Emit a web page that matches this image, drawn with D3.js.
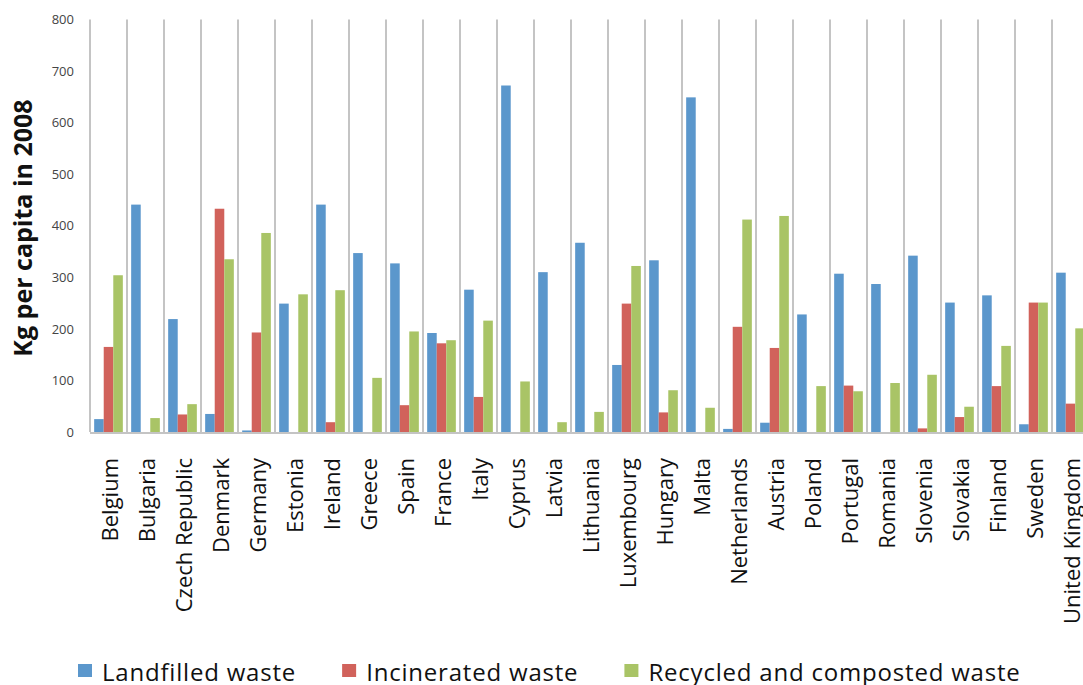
<!DOCTYPE html>
<html>
<head>
<meta charset="utf-8">
<script src="https://cdn.jsdelivr.net/npm/d3@7"></script>
<style>
  html, body { margin: 0; padding: 0; background: #fff; }
  svg { display: block; }
  text { font-family: "Open Sans", sans-serif; }
</style>
</head>
<body>
<svg id="chart" width="1083" height="685"></svg>
<script>
const countries = ["Belgium", "Bulgaria", "Czech Republic", "Denmark", "Germany", "Estonia", "Ireland", "Greece", "Spain", "France", "Italy", "Cyprus", "Latvia", "Lithuania", "Luxembourg", "Hungary", "Malta", "Netherlands", "Austria", "Poland", "Portugal", "Romania", "Slovenia", "Slovakia", "Finland", "Sweden", "United Kingdom"];
const seriesNames = ["Landfilled waste", "Incinerated waste", "Recycled and composted waste"];
const landfilled  = [25, 441, 219, 35, 3, 249, 441, 347, 327, 192, 276, 672, 310, 367, 130, 333, 649, 6, 18, 228, 307, 287, 342, 251, 265, 15, 309];
const incinerated = [165, 0, 34, 433, 193, 0, 19, 0, 52, 172, 68, 0, 0, 0, 249, 38, 0, 204, 163, 0, 90, 0, 7, 29, 89, 251, 55];
const recycled    = [304, 27, 54, 335, 386, 267, 275, 105, 195, 178, 216, 98, 19, 39, 322, 81, 47, 412, 419, 89, 79, 95, 111, 49, 167, 251, 201];
const yTicks = [0, 100, 200, 300, 400, 500, 600, 700, 800];
const colors = ["#5b97cc", "#d1625b", "#a9c466"];

const seriesValues = [landfilled, incinerated, recycled];
const svg = d3.select("#chart");

const plot = { left: 90, right: 1089, top: 19.5, bottom: 432 };

const x0 = d3.scaleBand().domain(countries).range([plot.left, plot.right])
  .paddingInner(0.225).paddingOuter(0.1125);
const x1 = d3.scaleBand().domain(seriesNames).range([0, x0.bandwidth()]);
const y = d3.scaleLinear().domain([0, 800]).range([plot.bottom, plot.top]);

// vertical gridlines at category boundaries
const boundaries = countries.map(c => x0(c) - x0.step() * x0.paddingInner() / 2);
boundaries.push(plot.left + x0.step() * countries.length);
svg.append("g").selectAll("line").data(boundaries).join("line")
  .attr("x1", d => d).attr("x2", d => d)
  .attr("y1", y(800)).attr("y2", y(0))
  .attr("stroke", "#c4c4c4").attr("stroke-width", 2);

// bars
const groups = svg.append("g").selectAll("g").data(countries).join("g")
  .attr("transform", d => `translate(${x0(d)},0)`);
groups.selectAll("rect")
  .data((c, i) => seriesNames.map((s, k) => ({ s, k, v: seriesValues[k][i] })))
  .join("rect")
  .attr("x", d => x1(d.s))
  .attr("width", x1.bandwidth())
  .attr("y", d => y(d.v))
  .attr("height", d => y(0) - y(d.v))
  .attr("fill", d => colors[d.k]);

// baseline
svg.append("line")
  .attr("x1", plot.left).attr("x2", plot.right)
  .attr("y1", y(0) + 1).attr("y2", y(0) + 1)
  .attr("stroke", "#c4c4c4").attr("stroke-width", 2);

// y axis
const yAxis = svg.append("g")
  .attr("transform", `translate(${plot.left},0)`)
  .call(d3.axisLeft(y).tickValues(yTicks).tickSize(0).tickPadding(16));
yAxis.select(".domain").remove();
yAxis.selectAll("text")
  .attr("font-family", "Open Sans, sans-serif")
  .attr("font-size", 13)
  .attr("fill", "#444");

// y title
svg.append("text")
  .attr("transform", `translate(32,${(96 + 360) / 2}) rotate(-90)`)
  .attr("text-anchor", "middle")
  .attr("font-size", 25)
  .attr("font-weight", "bold")
  .attr("fill", "#111")
  .text("Kg per capita in 2008");

// x labels
const xAxis = svg.append("g")
  .attr("transform", `translate(0,${plot.bottom})`)
  .call(d3.axisBottom(x0).tickSize(0).tickPadding(0));
xAxis.select(".domain").remove();
xAxis.selectAll("text")
  .attr("font-family", "Open Sans, sans-serif")
  .attr("font-size", 22)
  .attr("fill", "#111")
  .attr("text-anchor", "end")
  .attr("dy", "0.35em")
  .attr("transform", "translate(2,26) rotate(-90)")
  .attr("x", 0).attr("y", 0);

// legend
const legend = svg.append("g").attr("transform", "translate(78,0)");
let lx = 0;
seriesNames.forEach((s, k) => {
  const g = legend.append("g").attr("transform", `translate(${lx},0)`);
  g.append("rect").attr("x", 0).attr("y", 664).attr("width", 14).attr("height", 13).attr("fill", colors[k]);
  const t = g.append("text").attr("x", 24).attr("y", 681).attr("font-size", 24)
    .attr("letter-spacing", 0.8).attr("fill", "#111").text(s);
  lx += 24 + t.node().getComputedTextLength() + 46;
});
</script>
</body>
</html>
